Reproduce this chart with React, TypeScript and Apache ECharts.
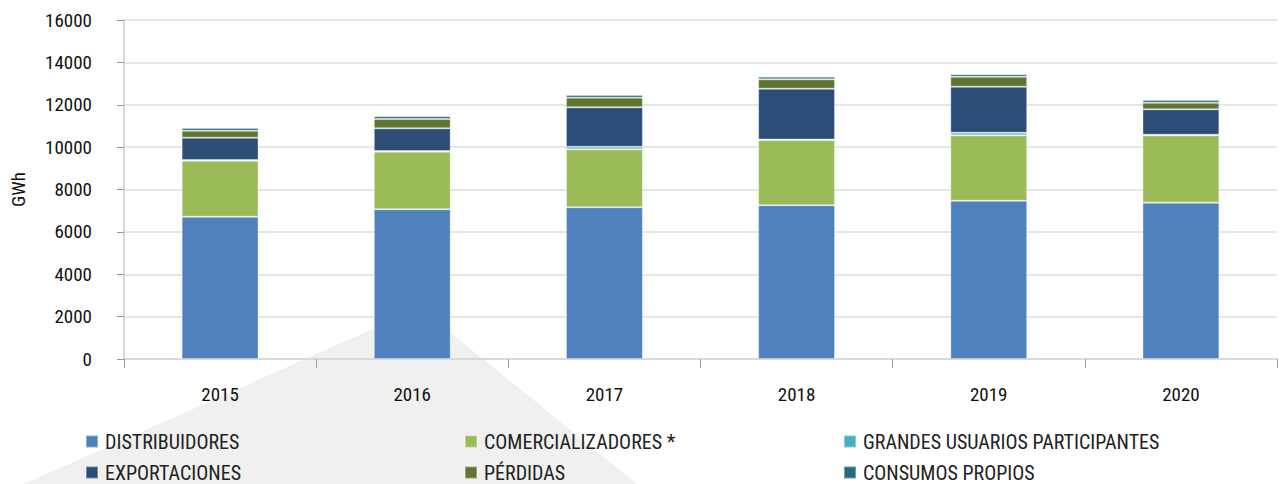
import React, { useEffect, useRef } from "react";
import * as echarts from "echarts";

const years = ["2015", "2016", "2017", "2018", "2019", "2020"];
const distribuidores = [6715, 7065, 7159, 7253, 7471, 7376];
const comercializadores = [2643, 2718, 2737, 3082, 3086, 3181];
const grandesUsuarios = [30, 30, 123, 25, 122, 30];
const exportaciones = [1056, 1074, 1859, 2396, 2172, 1197];
const perdidas = [330, 439, 458, 444, 471, 312];
const consumosPropios = [127, 127, 123, 122, 113, 127];

const FONT = "'Roboto Condensed', 'Liberation Sans Narrow', Roboto, sans-serif";

export default function App() {
  const ref = useRef<HTMLDivElement>(null);
  useEffect(() => {
    if (!ref.current) return;
    const chart = echarts.init(ref.current, undefined, { renderer: "svg" });
    const mk = (name: string, data: number[], color: string) => ({
      name,
      type: "bar",
      stack: "total",
      data,
      barWidth: "40%",
      itemStyle: { color, borderColor: "rgba(255,255,255,0.35)", borderWidth: 1 },
    });
    chart.setOption({
      animation: false,
      textStyle: { fontFamily: FONT },
      graphic: [
        {
          type: "polygon",
          z: -10,
          silent: true,
          shape: { points: [[420, 308], [24, 484], [637, 484]] },
          style: { fill: "#eff0ef" },
        },
      ],
      grid: { left: 124, right: 3, top: 20, bottom: 125, containLabel: false },
      legend: {
        left: 85,
        top: 431,
        width: 1180,
        padding: 0,
        itemWidth: 12,
        itemHeight: 12,
        itemGap: 10,
        icon: "rect",
        textStyle: {
          fontFamily: FONT,
          fontSize: 20,
          color: "#222",
          width: 349,
          lineHeight: 21,
          padding: [0, 0, 0, 2],
        },
        data: [
          "DISTRIBUIDORES",
          "COMERCIALIZADORES *",
          "GRANDES USUARIOS PARTICIPANTES",
          "EXPORTACIONES",
          "PÉRDIDAS",
          "CONSUMOS PROPIOS",
        ],
      },
      xAxis: {
        type: "category",
        data: years,
        axisLine: { lineStyle: { color: "#d9d9d9", width: 2 } },
        axisTick: { show: true, length: 9, lineStyle: { color: "#999" } },
        axisLabel: { color: "#111", fontSize: 19, margin: 26, fontFamily: FONT },
      },
      yAxis: {
        type: "value",
        min: 0,
        max: 16000,
        interval: 2000,
        name: "GWh",
        nameLocation: "middle",
        nameGap: 96,
        nameTextStyle: { color: "#111", fontSize: 19, fontFamily: FONT },
        axisLine: { show: true, lineStyle: { color: "#d9d9d9", width: 2 } },
        axisTick: { show: true, length: 7, lineStyle: { color: "#999" } },
        axisLabel: {
          color: "#111",
          fontSize: 19,
          margin: 32,
          fontFamily: FONT,
          formatter: (v: number) => String(v),
        },
        splitLine: { lineStyle: { color: "#e6e6e6", width: 2 } },
      },
      series: [
        mk("DISTRIBUIDORES", distribuidores, "#4f81bd"),
        mk("COMERCIALIZADORES *", comercializadores, "#9bbb59"),
        mk("GRANDES USUARIOS PARTICIPANTES", grandesUsuarios, "#4bacc6"),
        mk("EXPORTACIONES", exportaciones, "#2c4d75"),
        mk("PÉRDIDAS", perdidas, "#5f7530"),
        mk("CONSUMOS PROPIOS", consumosPropios, "#276a7c"),
      ],
    });
    return () => chart.dispose();
  }, []);
  return <div ref={ref} style={{ width: 1280, height: 484, position: "absolute", left: 0, top: 0 }} />;
}
